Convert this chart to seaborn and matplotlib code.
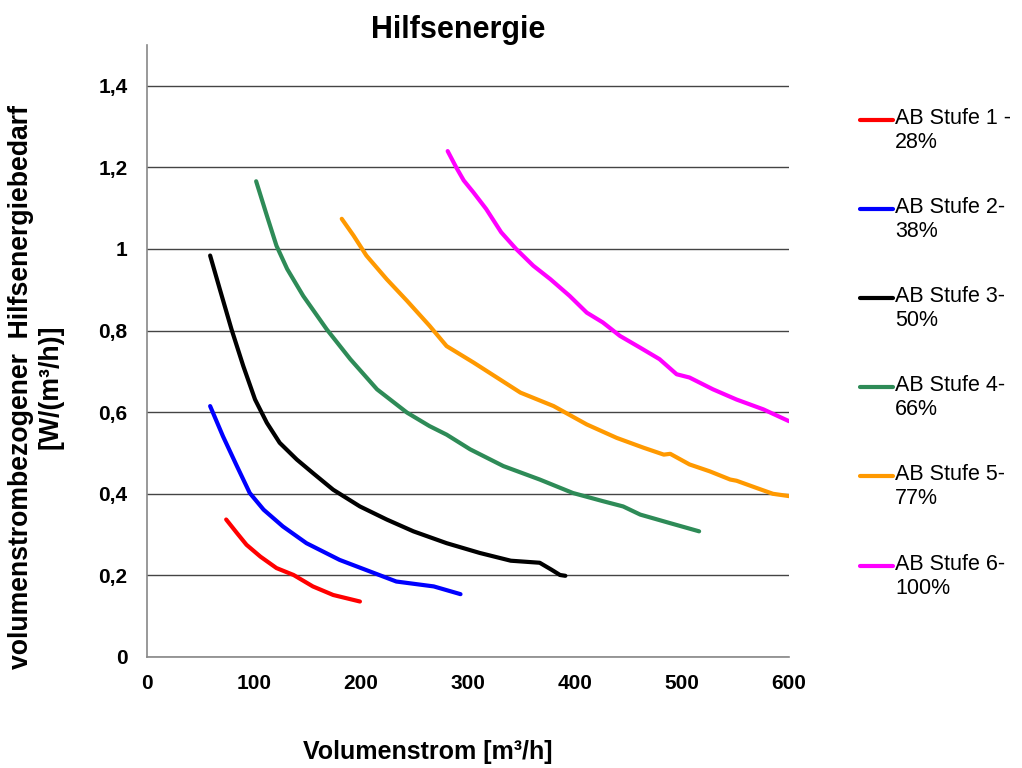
import matplotlib
matplotlib.use("Agg")
import matplotlib.pyplot as plt
from matplotlib.lines import Line2D
import seaborn as sns
import pandas as pd

# ---- data ----
series_names = ["AB Stufe 1 -\n28%", "AB Stufe 2-\n38%", "AB Stufe 3-\n50%",
                "AB Stufe 4-\n66%", "AB Stufe 5-\n77%", "AB Stufe 6-\n100%"]
colors = ["#FF0000", "#0000FF", "#000000", "#2E8B57", "#FF9900", "#FF00FF"]

x1 = [74, 84, 93, 106, 121, 137, 155, 174, 199]
y1 = [0.337, 0.304, 0.275, 0.246, 0.218, 0.201, 0.173, 0.152, 0.136]

x2 = [59, 71, 84, 96, 109, 127, 149, 180, 212, 233, 268, 293]
y2 = [0.615, 0.541, 0.468, 0.402, 0.361, 0.320, 0.279, 0.238, 0.206, 0.185, 0.173, 0.154]

x3 = [59, 68, 79, 90, 101, 112, 124, 140, 155, 174, 199, 224, 249, 280, 311, 340, 367, 378, 386, 391]
y3 = [0.984, 0.902, 0.803, 0.713, 0.631, 0.574, 0.525, 0.484, 0.451, 0.410, 0.369, 0.337,
      0.308, 0.279, 0.255, 0.236, 0.231, 0.214, 0.201, 0.199]

x4 = [102, 112, 121, 131, 146, 168, 190, 215, 243, 264, 280, 302, 333, 367, 398, 426, 445, 461, 489, 516]
y4 = [1.166, 1.082, 1.008, 0.951, 0.885, 0.803, 0.730, 0.656, 0.599, 0.566, 0.545, 0.509,
      0.468, 0.435, 0.402, 0.382, 0.369, 0.349, 0.328, 0.308]

x5 = [182, 193, 205, 224, 243, 264, 280, 305, 327, 349, 380, 411, 439, 464, 483, 489, 507, 526,
      545, 551, 570, 585, 601]
y5 = [1.074, 1.033, 0.984, 0.926, 0.873, 0.812, 0.762, 0.722, 0.685, 0.648, 0.615, 0.570,
      0.537, 0.513, 0.496, 0.498, 0.472, 0.455, 0.435, 0.432, 0.414, 0.400, 0.394]

x6 = [281, 289, 296, 305, 317, 331, 345, 361, 377, 395, 411, 426, 442, 461, 479, 495, 507,
      529, 551, 576, 600]
y6 = [1.240, 1.200, 1.168, 1.139, 1.098, 1.041, 1.000, 0.959, 0.926, 0.885, 0.844, 0.820,
      0.787, 0.758, 0.730, 0.693, 0.685, 0.656, 0.631, 0.607, 0.578]

y_ticks = [0, 0.2, 0.4, 0.6, 0.8, 1.0, 1.2, 1.4]
y_tick_labels = ["0", "0,2", "0,4", "0,6", "0,8", "1", "1,2", "1,4"]
x_ticks = [0, 100, 200, 300, 400, 500, 600]

title = "Hilfsenergie"
x_label = "Volumenstrom [m³/h]"
y_label = "volumenstrombezogener  Hilfsenergiebedarf\n[W/(m³/h)]"

# ---- build long-form table ----
xs = [x1, x2, x3, x4, x5, x6]
ys = [y1, y2, y3, y4, y5, y6]
rows = []
for name, xv, yv in zip(series_names, xs, ys):
    for i, (a, b) in enumerate(zip(xv, yv)):
        rows.append({"Serie": name, "x": a, "y": b, "order": i})
df = pd.DataFrame(rows)

sns.set_style("white")
plt.rcParams["font.family"] = ["Liberation Sans", "DejaVu Sans"]
plt.rcParams["text.color"] = "black"
plt.rcParams["xtick.labelcolor"] = "black"
plt.rcParams["ytick.labelcolor"] = "black"

fig = plt.figure(figsize=(10.22, 7.68), dpi=100)
ax = fig.add_axes([147 / 1022, 111 / 768, (789 - 147) / 1022, (657 - 45) / 768])

sns.lineplot(data=df, x="x", y="y", hue="Serie", palette=colors, sort=False,
             estimator=None, linewidth=3.0, legend=False, ax=ax)
for ln in ax.get_lines():
    ln.set_solid_capstyle("round")
    ln.set_solid_joinstyle("round")

ax.set_xlim(0, 600)
ax.set_ylim(0, 1.5)
ax.set_yticks(y_ticks)
ax.set_yticklabels(y_tick_labels)
ax.set_xticks(x_ticks)
ax.set_xticklabels([str(v) for v in x_ticks])
ax.tick_params(axis="both", labelsize=15, direction="out", length=5, width=1,
               color="#888888", labelcolor="black")
ax.tick_params(axis="y", pad=9)
ax.tick_params(axis="x", pad=7)
for lab in ax.get_xticklabels() + ax.get_yticklabels():
    lab.set_fontweight("bold")

ax.yaxis.grid(True, color="#444444", linewidth=1)
ax.xaxis.grid(False)
ax.set_axisbelow(True)
for side in ["top", "right"]:
    ax.spines[side].set_visible(False)
for side in ["left", "bottom"]:
    ax.spines[side].set_color("#888888")
    ax.spines[side].set_linewidth(1.2)

ax.set_xlabel("")
ax.set_ylabel("")
fig.text(458 / 1022, 1 - 38 / 768, title, ha="center", va="baseline",
         fontsize=22, fontweight="bold")
fig.text(428 / 1022, 1 - 752 / 768, x_label, ha="center", va="center",
         fontsize=18, fontweight="bold")
fig.text(36 / 1022, 1 - 387 / 768, y_label, ha="center", va="center",
         fontsize=19.2, fontweight="bold", rotation=90, linespacing=1.15)

# ---- legend (manual, handle aligned with first text line) ----
leg_y = [120, 209, 298, 387, 476, 566]
for name, col, yy in zip(series_names, colors, leg_y):
    fy = 1 - yy / 768
    fig.add_artist(Line2D([860 / 1022, 893 / 1022], [fy, fy], color=col,
                          linewidth=3.0, transform=fig.transFigure))
    fig.text(895 / 1022, fy + 12 / 768, name, ha="left", va="top",
             fontsize=15.5, linespacing=1.2)

fig.savefig("out.png", dpi=100)
